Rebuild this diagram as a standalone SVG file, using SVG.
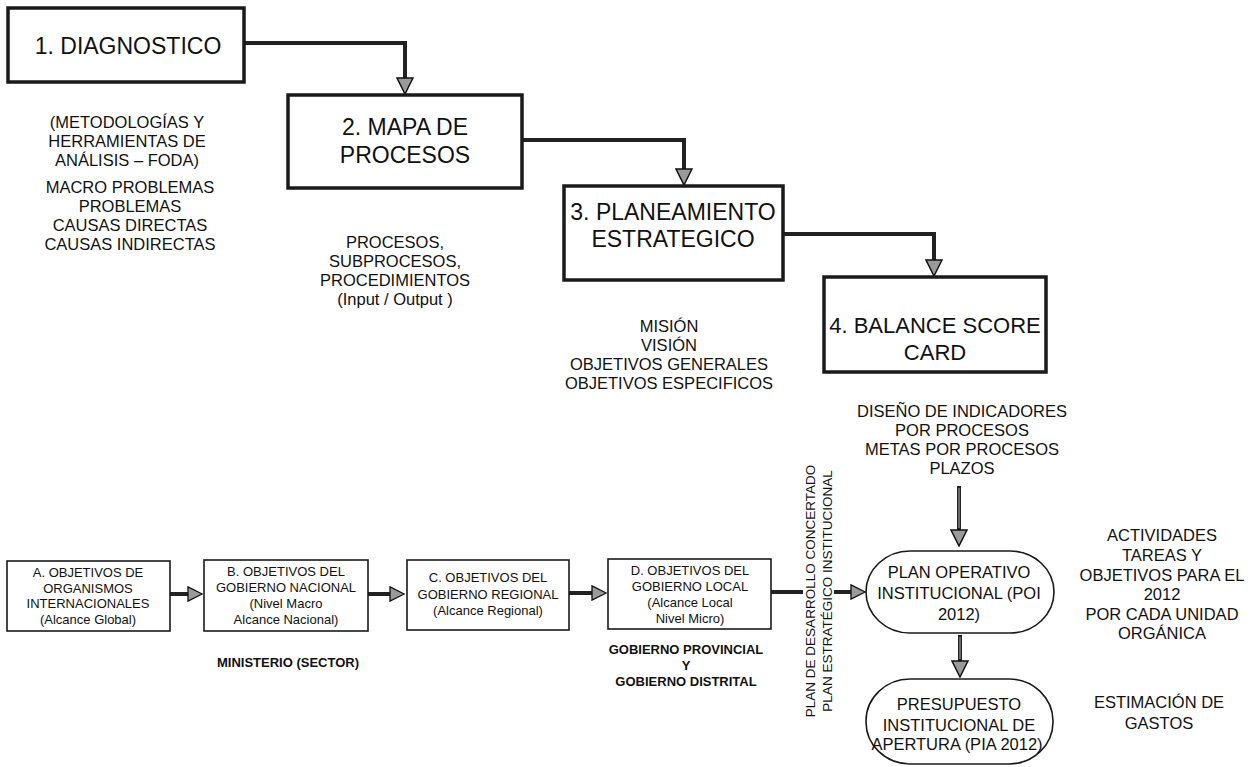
<svg xmlns="http://www.w3.org/2000/svg" width="1256" height="767" viewBox="0 0 1256 767">
<style>
  text { font-family: "Liberation Sans", Arial, sans-serif; fill: #111; }
  .t1 { font-size: 23px; text-anchor: middle; }
  .t4 { font-size: 22px; text-anchor: middle; }
  .ann { font-size: 16.5px; text-anchor: middle; }
  .sm { font-size: 13px; text-anchor: middle; }
  .smb { font-size: 13px; text-anchor: middle; font-weight: bold; }
  .vt { font-size: 13.5px; text-anchor: middle; }
  .big { fill: #fff; stroke: #1a1a1a; stroke-width: 3.5; }
  .small { fill: #fff; stroke: #1a1a1a; stroke-width: 1.6; }
  .pill { fill: #fff; stroke: #1a1a1a; stroke-width: 1.6; }
  .conn { fill: none; stroke: #222; stroke-width: 4; }
  .core { fill: none; stroke: #9a9a9a; stroke-width: 1.2; }
</style>
<defs>
  <marker id="ah" viewBox="0 0 18 18" markerWidth="18" markerHeight="18" refX="1" refY="9" orient="auto" markerUnits="userSpaceOnUse">
    <path d="M1,1 L17,9 L1,17 Z" fill="#9a9a9a" stroke="#111" stroke-width="1.5"/>
  </marker>
  <marker id="ahs" viewBox="0 0 18 18" markerWidth="16" markerHeight="16" refX="1" refY="9" orient="auto" markerUnits="userSpaceOnUse">
    <path d="M1,1 L17,9 L1,17 Z" fill="#9a9a9a" stroke="#111" stroke-width="1.5"/>
  </marker>
</defs>
<rect x="0" y="0" width="1256" height="767" fill="#fff"/>

<g id="connectors">
  <polyline class="conn" points="245,43 405,43 405,78" marker-end="url(#ah)"/>
  <polyline class="conn" points="522,140 684,140 684,169" marker-end="url(#ah)"/>
  <polyline class="conn" points="783,234 934,234 934,260" marker-end="url(#ah)"/>
  <line class="conn" x1="959" y1="486" x2="959" y2="530" marker-end="url(#ah)"/>
  <line class="core" x1="959" y1="488" x2="959" y2="528"/>
  <line class="conn" x1="960" y1="635" x2="960" y2="661" marker-end="url(#ah)"/>
  <line class="core" x1="960" y1="637" x2="960" y2="659"/>
  <line class="conn" x1="170" y1="594" x2="188" y2="594" marker-end="url(#ahs)"/>
  <line class="conn" x1="368" y1="594" x2="390" y2="594" marker-end="url(#ahs)"/>
  <line class="conn" x1="569" y1="593" x2="592" y2="593" marker-end="url(#ahs)"/>
  <line class="conn" x1="771" y1="592" x2="803" y2="592"/>
  <line class="conn" x1="834" y1="592" x2="851" y2="592" marker-end="url(#ahs)"/>
</g>

<g id="n1">
  <rect class="big" x="8" y="8" width="236" height="74"/>
  <text class="t1" x="128" y="54">1. DIAGNOSTICO</text>
</g>
<g id="n1-notes">
  <text class="ann" x="127" y="128">(METODOLOGÍAS Y</text>
  <text class="ann" x="127" y="147">HERRAMIENTAS DE</text>
  <text class="ann" x="127" y="166">ANÁLISIS – FODA)</text>
  <text class="ann" x="130" y="193">MACRO PROBLEMAS</text>
  <text class="ann" x="130" y="212">PROBLEMAS</text>
  <text class="ann" x="130" y="231">CAUSAS DIRECTAS</text>
  <text class="ann" x="130" y="250">CAUSAS INDIRECTAS</text>
</g>

<g id="n2">
  <rect class="big" x="288" y="95" width="234" height="93"/>
  <text class="t1" x="405" y="135">2. MAPA DE</text>
  <text class="t1" x="405" y="163">PROCESOS</text>
</g>
<g id="n2-notes">
  <text class="ann" x="395" y="248">PROCESOS,</text>
  <text class="ann" x="395" y="267">SUBPROCESOS,</text>
  <text class="ann" x="395" y="286">PROCEDIMIENTOS</text>
  <text class="ann" x="395" y="305">(Input / Output )</text>
</g>

<g id="n3">
  <rect class="big" x="564" y="186" width="219" height="94"/>
  <text class="t1" x="673" y="220">3. PLANEAMIENTO</text>
  <text class="t1" x="673" y="247">ESTRATEGICO</text>
</g>
<g id="n3-notes">
  <text class="ann" x="669" y="332">MISIÓN</text>
  <text class="ann" x="669" y="351">VISIÓN</text>
  <text class="ann" x="669" y="370">OBJETIVOS GENERALES</text>
  <text class="ann" x="669" y="389">OBJETIVOS ESPECIFICOS</text>
</g>

<g id="n4">
  <rect class="big" x="824" y="277" width="222" height="95"/>
  <text class="t4" x="935" y="333">4. BALANCE SCORE</text>
  <text class="t4" x="935" y="360">CARD</text>
</g>
<g id="n4-notes">
  <text class="ann" x="962" y="417">DISEÑO DE INDICADORES</text>
  <text class="ann" x="962" y="436">POR PROCESOS</text>
  <text class="ann" x="962" y="455">METAS POR PROCESOS</text>
  <text class="ann" x="962" y="474">PLAZOS</text>
</g>

<g id="nA">
  <rect class="small" x="7" y="561" width="163" height="70"/>
  <text class="sm" x="88" y="577">A. OBJETIVOS DE</text>
  <text class="sm" x="88" y="592.5">ORGANISMOS</text>
  <text class="sm" x="88" y="608">INTERNACIONALES</text>
  <text class="sm" x="88" y="623.5">(Alcance Global)</text>
</g>
<g id="nB">
  <rect class="small" x="204" y="560" width="164" height="71"/>
  <text class="sm" x="286" y="576">B. OBJETIVOS DEL</text>
  <text class="sm" x="286" y="592">GOBIERNO NACIONAL</text>
  <text class="sm" x="286" y="608">(Nivel Macro</text>
  <text class="sm" x="286" y="624">Alcance Nacional)</text>
</g>
<text class="smb" x="288" y="667">MINISTERIO (SECTOR)</text>
<g id="nC">
  <rect class="small" x="407" y="560" width="162" height="70"/>
  <text class="sm" x="488" y="582">C. OBJETIVOS DEL</text>
  <text class="sm" x="488" y="598.5">GOBIERNO REGIONAL</text>
  <text class="sm" x="488" y="615">(Alcance Regional)</text>
</g>
<g id="nD">
  <rect class="small" x="608" y="559" width="163" height="70"/>
  <text class="sm" x="690" y="575">D. OBJETIVOS DEL</text>
  <text class="sm" x="690" y="591">GOBIERNO LOCAL</text>
  <text class="sm" x="690" y="607">(Alcance Local</text>
  <text class="sm" x="690" y="623">Nivel Micro)</text>
</g>
<g id="nD-notes">
  <text class="smb" x="686" y="654">GOBIERNO PROVINCIAL</text>
  <text class="smb" x="686" y="670">Y</text>
  <text class="smb" x="686" y="686">GOBIERNO DISTRITAL</text>
</g>

<g id="vlabels">
  <text class="vt" transform="translate(815,591) rotate(-90)">PLAN DE DESARROLLO CONCERTADO</text>
  <text class="vt" transform="translate(832,591) rotate(-90)">PLAN ESTRATÉGICO INSTITUCIONAL</text>
</g>

<g id="nPOI">
  <rect class="pill" x="866" y="551" width="188" height="82" rx="44" ry="41"/>
  <text class="ann" x="959" y="578">PLAN OPERATIVO</text>
  <text class="ann" x="959" y="599">INSTITUCIONAL (POI</text>
  <text class="ann" x="959" y="620">2012)</text>
</g>
<g id="nPOI-notes">
  <text class="ann" x="1162" y="541">ACTIVIDADES</text>
  <text class="ann" x="1162" y="561">TAREAS Y</text>
  <text class="ann" x="1162" y="581">OBJETIVOS PARA EL</text>
  <text class="ann" x="1162" y="600">2012</text>
  <text class="ann" x="1162" y="620">POR CADA UNIDAD</text>
  <text class="ann" x="1162" y="639">ORGÁNICA</text>
</g>

<g id="nPIA">
  <rect class="pill" x="866" y="679" width="187" height="85" rx="44" ry="42"/>
  <text class="ann" x="959" y="710">PRESUPUESTO</text>
  <text class="ann" x="959" y="731">INSTITUCIONAL DE</text>
  <text class="ann" x="957" y="750">APERTURA (PIA 2012)</text>
</g>
<g id="nPIA-notes">
  <text class="ann" x="1159" y="708">ESTIMACIÓN DE</text>
  <text class="ann" x="1159" y="729">GASTOS</text>
</g>
</svg>
